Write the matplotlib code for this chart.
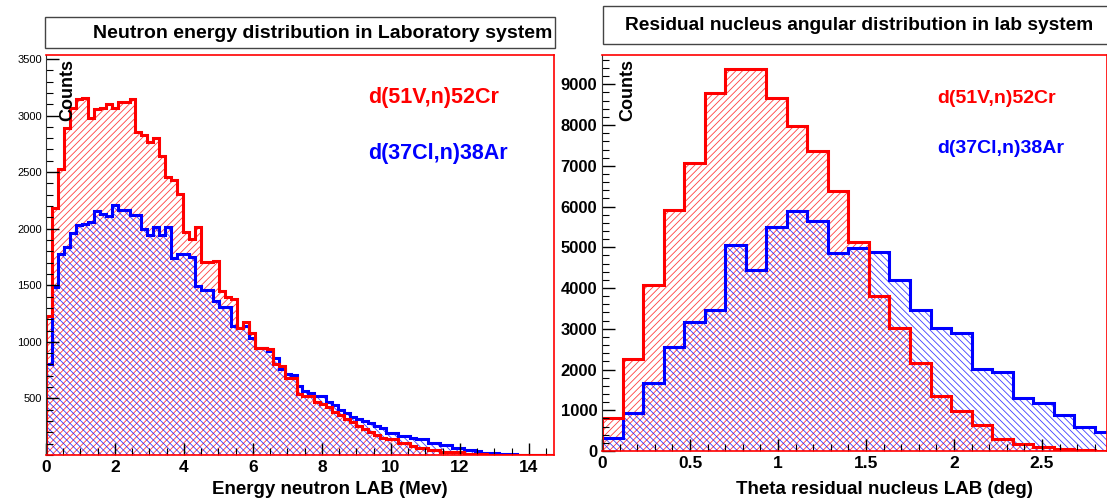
import numpy as np
import matplotlib.pyplot as plt
from matplotlib.ticker import MultipleLocator
from matplotlib.patches import Rectangle

plt.rcParams['font.family'] = ['Liberation Sans', 'DejaVu Sans']
plt.rcParams['hatch.linewidth'] = 0.6

# neutron energy histogram: 85 bins over 0 - 14.7 MeV
e_range = (0.0, 14.7)
e_v51 = [1230, 2182, 2531, 2886, 3064, 3146, 3153, 2975, 3058, 3069,
         3099, 3064, 3122, 3122, 3146, 2857, 2827, 2762, 2803, 2640,
         2460, 2428, 2310, 1969, 1910, 2013, 1703, 1703, 1718, 1452,
         1392, 1380, 1126, 1179, 1082, 943, 943, 937, 801, 786,
         677, 677, 535, 520, 520, 470, 450, 420, 380, 350,
         320, 290, 260, 230, 200, 180, 150, 138, 138, 106,
         106, 76, 61, 61, 47, 47, 26, 26, 26, 26,
         8, 8, 8, 8, 3, 3, 3, 3, 2, 2,
         2, 2, 2, 2, 2]
e_cl37 = [801, 1481, 1777, 1836, 1964, 2037, 2043, 2058, 2155, 2132,
          2108, 2209, 2161, 2161, 2117, 2117, 1998, 1940, 2013, 1940,
          2013, 1741, 1777, 1777, 1753, 1496, 1458, 1458, 1363, 1304,
          1304, 1140, 1126, 1140, 1037, 949, 949, 919, 860, 757,
          712, 706, 609, 564, 549, 520, 520, 470, 440, 400,
          370, 340, 320, 300, 280, 260, 239, 194, 194, 165,
          165, 150, 138, 138, 106, 106, 91, 91, 61, 61,
          47, 47, 35, 20, 20, 15, 10, 10, 8, 3,
          3, 3, 3, 2, 2]

# residual nucleus angle histogram: bin width 3.5/30 deg
th_width = 3.5 / 30
th_v51 = [818, 2264, 4085, 5924, 7068, 8784, 9372, 9372, 8661, 7983,
          7353, 6373, 5130, 3799, 3024, 2150, 1348, 980, 630, 304,
          164, 108, 59, 20, 10]
th_cl37 = [328, 924, 1676, 2549, 3162, 3456, 5049, 4453, 5500, 5882,
           5637, 4863, 4990, 4877, 4191, 3449, 3024, 2885, 2002, 1936,
           1292, 1169, 875, 598, 466]

labels = ['d(51V,n)52Cr', 'd(37Cl,n)38Ar']
colors = ['#ff0000', '#0000ff']
hatches = ['/////', '\\\\\\\\\\']


def draw_hists(ax, edges, series):
    for vals, col, hat in zip(series, colors, hatches):
        ax.stairs(vals, edges, fill=True, facecolor='none', edgecolor=col,
                  hatch=hat, linewidth=0, alpha=0.75)
    for vals, col in list(zip(series, colors))[::-1]:
        ax.stairs(vals, edges, baseline=0, color=col, linewidth=2.2)


def style_axes(ax):
    ax.tick_params(which='both', direction='in', top=False, right=False)
    ax.tick_params(which='major', length=9, width=1)
    ax.tick_params(which='minor', length=5, width=0.8)
    ax.spines['left'].set_color('#333333')
    for s in ['top', 'right', 'bottom']:
        ax.spines[s].set_color('#ff0000')
        ax.spines[s].set_linewidth(1.2)
    for lab in ax.get_xticklabels():
        lab.set_fontweight('bold')
        lab.set_fontsize(12.5)


fig = plt.figure(figsize=(11.07, 5.0), dpi=100)

# ---- left panel
ax1 = fig.add_axes([46 / 1107, 0.09, 508 / 1107, 0.80])
e_edges = np.linspace(e_range[0], e_range[1], len(e_v51) + 1)
draw_hists(ax1, e_edges, [e_v51, e_cl37])
ax1.set_xlim(0, 14.73)
ax1.set_ylim(0, 3535)
ax1.set_xticks(np.arange(0, 15, 2))
ax1.xaxis.set_minor_locator(MultipleLocator(0.5))
ax1.set_yticks(np.arange(500, 3501, 500))
ax1.yaxis.set_minor_locator(MultipleLocator(100))
style_axes(ax1)
ax1.tick_params(axis='y', labelsize=8, pad=3)
ax1.set_xlabel('Energy neutron LAB (Mev)', fontsize=13.5, fontweight='bold')
ax1.xaxis.set_label_coords(0.558, -0.065)
ax1.text(0.043, 0.99, 'Counts', rotation=90, ha='center', va='top',
         fontsize=13, fontweight='bold', transform=ax1.transAxes)
ax1.text(0.634, 0.8925, labels[0], color=colors[0], fontsize=15.5,
         fontweight='bold', va='center', transform=ax1.transAxes)
ax1.text(0.634, 0.7525, labels[1], color=colors[1], fontsize=15.5,
         fontweight='bold', va='center', transform=ax1.transAxes)

# ---- right panel
ax2 = fig.add_axes([602 / 1107, 0.098, 505 / 1107, 0.792])
th_edges = np.arange(len(th_v51) + 1) * th_width
draw_hists(ax2, th_edges, [th_v51, th_cl37])
ax2.set_xlim(0, 2.869)
ax2.set_ylim(0, 9720)
ax2.set_xticks([0, 0.5, 1, 1.5, 2, 2.5])
ax2.set_xticklabels(['0', '0.5', '1', '1.5', '2', '2.5'])
ax2.xaxis.set_minor_locator(MultipleLocator(0.1))
ax2.set_yticks(np.arange(0, 9001, 1000))
ax2.yaxis.set_minor_locator(MultipleLocator(200))
style_axes(ax2)
ax2.tick_params(axis='y', labelsize=12)
for lab in ax2.get_yticklabels():
    lab.set_fontweight('bold')
ax2.set_xlabel('Theta residual nucleus LAB (deg)', fontsize=13.5,
               fontweight='bold')
ax2.xaxis.set_label_coords(0.56, -0.075)
ax2.text(0.0515, 0.99, 'Counts', rotation=90, ha='center', va='top',
         fontsize=13, fontweight='bold', transform=ax2.transAxes)
ax2.text(0.663, 0.889, labels[0], color=colors[0], fontsize=14,
         fontweight='bold', va='center', transform=ax2.transAxes)
ax2.text(0.663, 0.763, labels[1], color=colors[1], fontsize=14,
         fontweight='bold', va='center', transform=ax2.transAxes)

# ---- title boxes
fig.patches.append(Rectangle((45 / 1107, 1 - 48 / 500), 510 / 1107, 31 / 500,
                             transform=fig.transFigure, facecolor='white',
                             edgecolor='#444444', linewidth=1))
fig.text(552 / 1107, 1 - 33 / 500, 'Neutron energy distribution in Laboratory system',
         ha='right', va='center', fontsize=14, fontweight='bold')
fig.patches.append(Rectangle((603 / 1107, 1 - 44 / 500), 510 / 1107, 38 / 500,
                             transform=fig.transFigure, facecolor='white',
                             edgecolor='#444444', linewidth=1))
fig.text(625 / 1107, 1 - 25 / 500, 'Residual nucleus angular distribution in lab system',
         ha='left', va='center', fontsize=13.8, fontweight='bold')

fig.savefig('out.png', dpi=100)
